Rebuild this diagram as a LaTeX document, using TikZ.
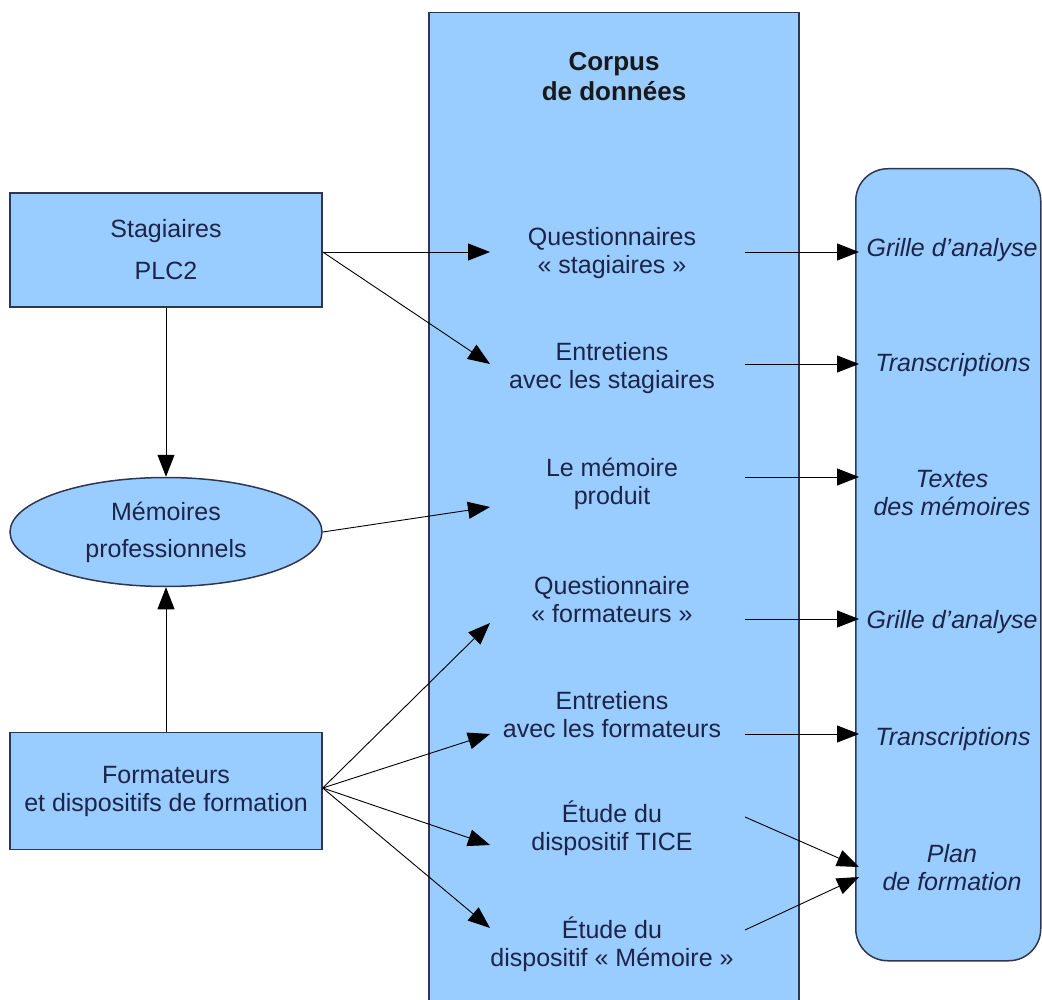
\documentclass[tikz,border=0pt]{standalone}
\usepackage{fontspec}
\setmainfont{Liberation Sans}
\usetikzlibrary{arrows.meta,shapes.geometric,calc}
\definecolor{boxfill}{HTML}{99CCFF}
\definecolor{boxline}{HTML}{2E3650}
\definecolor{txt}{HTML}{1E2448}
\begin{document}
\begin{tikzpicture}[x=1pt,y=-1pt,
  every node/.style={font=\fontsize{25}{28}\selectfont, text=txt},
  blockbox/.style={draw=boxline, line width=1.5pt, fill=boxfill, inner sep=0pt},
  item/.style={align=center, inner sep=0pt},
  ritem/.style={align=center, inner sep=0pt, font=\fontsize{25}{28}\selectfont\itshape},
  arr/.style={-{Triangle[length=22pt,width=17pt]}, line width=0.9pt, black},
]
\useasboundingbox (0,0) rectangle (1042,1000);
\clip (0,0) rectangle (1042,1000);

% containers
\node[blockbox, anchor=north west, minimum width=370pt, minimum height=1000pt] (corpus) at (428,12) {};
\node[blockbox, rounded corners=32pt, anchor=north west, minimum width=185pt, minimum height=792pt] (rbox) at (855,168) {};
\node[item, font=\fontsize{26}{30}\selectfont\bfseries, text=black!90] (title) at (614,77) {Corpus\\de données};

% left nodes
\node[blockbox, minimum width=312pt, minimum height=114pt, align=center] (st) at (166,250) {Stagiaires\\[14pt]PLC2};
\node[blockbox, ellipse, minimum width=312pt, minimum height=109pt, align=center] (ell) at (166,532) {Mémoires\\[9pt]professionnels};
\node[blockbox, minimum width=312pt, minimum height=117pt, align=center] (fo) at (166,791) {Formateurs\\et dispositifs de formation};

% central items
\node[item] (q1) at (612,253) {Questionnaires\\« stagiaires »};
\node[item] (e1) at (612,368) {Entretiens\\avec les stagiaires};
\node[item] (m) at (612,484) {Le mémoire\\produit};
\node[item] (qf) at (612,600) {Questionnaire\\« formateurs »};
\node[item] (ef) at (612,715) {Entretiens\\avec les formateurs};
\node[item] (tice) at (612,828) {Étude du\\dispositif TICE};
\node[item] (mem) at (612,944) {Étude du\\dispositif « Mémoire »};

% right items
\node[ritem] (r1) at (952,250) {Grille d{\char"0027}analyse};
\node[ritem] (r2) at (953,365) {Transcriptions};
\node[ritem] (r3) at (952,493) {Textes\\des mémoires};
\node[ritem] (r4) at (952,622) {Grille d{\char"0027}analyse};
\node[ritem] (r5) at (953,739) {Transcriptions};
\node[ritem] (plan) at (952,868) {Plan\\de formation};

% left-side connectors
\coordinate (sto) at ($(st.east)+(0,2)$);
\draw[arr] (sto) -- ($(q1)+(-122,-1)$);
\draw[arr] (sto) -- ($(e1)+(-122,-4)$);
\draw[arr] (st.south) -- (ell.north);
\draw[arr] (fo.north) -- (ell.south);
\draw[arr] (ell.east) -- ($(m)+(-122,23)$);
\coordinate (foo) at ($(fo.east)+(0,-3)$);
\draw[arr] (foo) -- ($(qf)+(-122,23)$);
\draw[arr] (foo) -- ($(ef)+(-122,19)$);
\draw[arr] (foo) -- ($(tice)+(-122,17)$);
\draw[arr] (foo) -- ($(mem)+(-122,-16)$);

% right-side connectors
\foreach \n/\dy in {q1/-1, e1/-4, m/-7, qf/19, ef/19} {
  \coordinate (o\n) at ($(\n)+(133,\dy)$);
  \draw[arr] (o\n) -- ($(o\n -| rbox.west)+(4,0)$);
}
\coordinate (oTice) at ($(tice)+(133,-11)$);
\draw[arr] (oTice) -- ($(plan.center -| rbox.west)+(4,-1)$);
\coordinate (oMem) at ($(mem)+(133,-14)$);
\draw[arr] (oMem) -- ($(plan.center -| rbox.west)+(4,9)$);
\end{tikzpicture}
\end{document}
